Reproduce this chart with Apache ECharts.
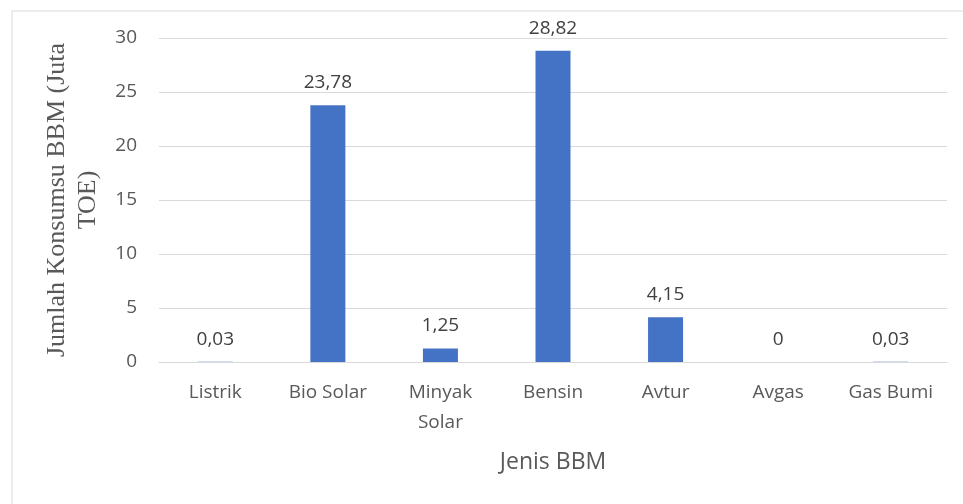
<!DOCTYPE html>
<html>
<head>
<meta charset="utf-8">
<script src="https://cdn.jsdelivr.net/npm/echarts@6/dist/echarts.min.js"></script>
<style>
  html, body { margin: 0; padding: 0; background: #fff; }
  #chart { width: 963px; height: 504px; }
</style>
</head>
<body>
<div id="chart"></div>
<script>
const categories = ['Listrik', 'Bio Solar', 'Minyak\nSolar', 'Bensin', 'Avtur', 'Avgas', 'Gas Bumi'];
const values = [0.03, 23.78, 1.25, 28.82, 4.15, 0, 0.03];
const yTicks = [0, 5, 10, 15, 20, 25, 30];

const labelFont = 'Open Sans';
const textColor = '#595959';

const chart = echarts.init(document.getElementById('chart'));

const option = {
  animation: false,
  graphic: [
    {
      type: 'rect',
      left: 9.5,
      top: 8.5,
      shape: { width: 1000, height: 1000 },
      style: { fill: 'none', stroke: '#d9d9d9', lineWidth: 1 },
      silent: true
    }
  ],
  grid: {
    left: 159,
    right: 16,
    top: 38,
    bottom: 142
  },
  xAxis: {
    type: 'category',
    data: categories,
    axisTick: { show: false },
    axisLine: { lineStyle: { color: '#d9d9d9', width: 1 } },
    axisLabel: {
      color: textColor,
      fontFamily: labelFont,
      fontSize: 19,
      lineHeight: 30,
      margin: 16,
      interval: 0
    },
    name: 'Jenis BBM',
    nameLocation: 'middle',
    nameGap: 89,
    nameTextStyle: {
      color: textColor,
      fontFamily: labelFont,
      fontSize: 23
    }
  },
  yAxis: {
    type: 'value',
    min: yTicks[0],
    max: yTicks[yTicks.length - 1],
    interval: 5,
    axisLine: { show: false },
    axisTick: { show: false },
    splitLine: { lineStyle: { color: '#d9d9d9', width: 1 } },
    axisLabel: {
      color: textColor,
      fontFamily: labelFont,
      fontSize: 19,
      margin: 22
    },
    name: 'Jumlah Konsumsu BBM (Juta\nTOE)',
    nameLocation: 'middle',
    nameRotate: 90,
    nameGap: 55,
    nameTextStyle: {
      color: textColor,
      fontFamily: 'Liberation Serif',
      fontSize: 26,
      lineHeight: 31
    }
  },
  series: [
    {
      type: 'bar',
      data: values,
      barWidth: 35,
      itemStyle: { color: '#4472C4' },
      label: {
        show: true,
        position: 'top',
        distance: 13,
        color: '#404040',
        fontFamily: labelFont,
        fontSize: 19,
        formatter: function (p) {
          return String(p.value).replace('.', ',');
        }
      }
    }
  ]
};

chart.setOption(option);
</script>
</body>
</html>
